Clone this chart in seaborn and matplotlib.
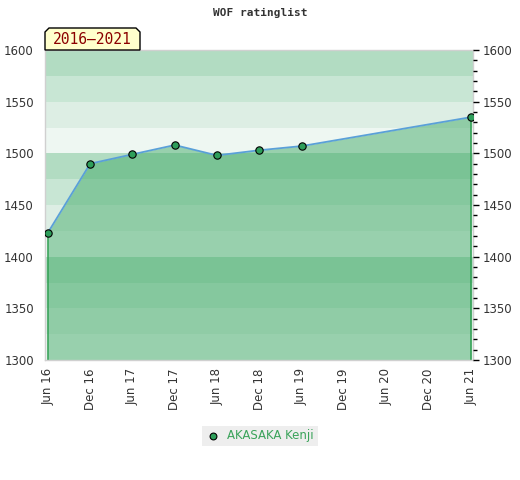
import matplotlib
matplotlib.use("Agg")
import matplotlib.pyplot as plt
import seaborn as sns
import pandas as pd
import numpy as np
from matplotlib.patches import Polygon
from matplotlib.ticker import MultipleLocator

# ---- data ----
dates = ["2016-06-01", "2016-12-01", "2017-06-01", "2017-12-01", "2018-06-01",
         "2018-12-01", "2019-06-01", "2021-06-01"]
ratings = [1423, 1490, 1499, 1508, 1498, 1503, 1507, 1535]
tick_dates = ["2016-06-01", "2016-12-01", "2017-06-01", "2017-12-01", "2018-06-01",
              "2018-12-01", "2019-06-01", "2019-12-01", "2020-06-01", "2020-12-01",
              "2021-06-01"]
tick_labels = ["Jun 16", "Dec 16", "Jun 17", "Dec 17", "Jun 18", "Dec 18",
               "Jun 19", "Dec 19", "Jun 20", "Dec 20", "Jun 21"]
player = "AKASAKA Kenji"
period_label = "2016\u20132021"
title = "WOF ratinglist"
band_colors = ["#eef7f2", "#ddeee4", "#c8e6d4", "#b2dcc2"]  # per 25 within each 100, bottom->top

sns.set_theme(style="white")
plt.rcParams['font.family'] = ['DejaVu Sans']

df = pd.DataFrame({"date": pd.to_datetime(dates), "rating": ratings, "player": player})
tdates = pd.to_datetime(tick_dates)

fig = plt.figure(figsize=(5.2, 4.8), dpi=100)
ax = fig.add_axes([45/520, 1-360/480, (473-45)/520, 310/480])

ymin, ymax = 1300, 1600
# bands
for i, lo in enumerate(range(ymin, ymax, 25)):
    ax.axhspan(lo, lo + 25, color=band_colors[i % 4], lw=0, zorder=0)

# filled area under line
ax.fill_between(df["date"], df["rating"], ymin, color="#44ab6a", alpha=0.5, lw=0, zorder=1)
ax.vlines([df["date"].iloc[0], df["date"].iloc[-1]], ymin,
          [df["rating"].iloc[0], df["rating"].iloc[-1]], color="#2e9e50", lw=1.1, zorder=2)

sns.lineplot(data=df, x="date", y="rating", ax=ax, color="#5aa0d8", lw=1.3, zorder=3,
             legend=False)
sns.scatterplot(data=df, x="date", y="rating", ax=ax, color="#2e9e5a", edgecolor="black",
                linewidth=0.8, s=28, zorder=4, legend=False)

ax.set_xlim(tdates[0] - pd.Timedelta(days=12), tdates[-1] + pd.Timedelta(days=9))
ax.set_ylim(ymin, ymax)
ax.set_xticks(tdates)
ax.set_xticklabels(tick_labels, rotation=90, fontsize=8.5, color="#333333")
ax.set_yticks(range(ymin, ymax + 1, 50))
ax.tick_params(axis="y", labelsize=8.5, labelcolor="#333333", length=0, pad=8)
ax.tick_params(axis="x", length=0, pad=6)
ax.set_xlabel("")
ax.set_ylabel("")
for s in ax.spines.values():
    s.set_color("#d0d0d0")
    s.set_linewidth(1)

ax2 = ax.twinx()
ax2.set_ylim(ymin, ymax)
ax2.set_yticks(range(ymin, ymax + 1, 50))
ax2.yaxis.set_minor_locator(MultipleLocator(10))
ax2.tick_params(axis="y", which="major", labelsize=8.5, labelcolor="#333333",
                length=4, width=1, color="black", direction="out", pad=3)
ax2.tick_params(axis="y", which="minor", length=3, width=1, color="black", direction="out")
for s in ax2.spines.values():
    s.set_visible(False)

# title
fig.text(260/520, 1-13/480, title, ha="center", va="center", fontsize=8,
         family="DejaVu Sans Mono", weight="bold", color="#333333")

# period label box with chamfered top corners
x0, x1 = 45/520, 140/520
y0, y1 = 1-50/480, 1-28/480
c = 4/520
cy = 4/480
poly = Polygon([(x0, y0), (x0, y1 - cy), (x0 + c, y1), (x1 - c, y1), (x1, y1 - cy), (x1, y0)],
               closed=True, transform=fig.transFigure, facecolor="#ffffcc",
               edgecolor="black", lw=1, zorder=10)
fig.patches.append(poly)
fig.text((x0 + x1)/2, (y0 + y1)/2 - 1/480, period_label, ha="center", va="center",
         fontsize=10.5, family="DejaVu Sans Mono", color="#8b0000", zorder=11)

# legend
leg_ax = fig.add_axes([202/520, 1-446/480, 116/520, 20/480])
leg_ax.set_xlim(0, 116)
leg_ax.set_ylim(0, 20)
leg_ax.set_facecolor("#eeeeee")
for s in leg_ax.spines.values():
    s.set_visible(False)
leg_ax.set_xticks([])
leg_ax.set_yticks([])
leg_ax.scatter([11], [10], s=24, color="#2e9e5a", edgecolor="black", linewidth=0.8)
leg_ax.text(25, 10, player, va="center", ha="left", fontsize=8.5, color="#3aa35a")

fig.savefig("out.png", dpi=100)
